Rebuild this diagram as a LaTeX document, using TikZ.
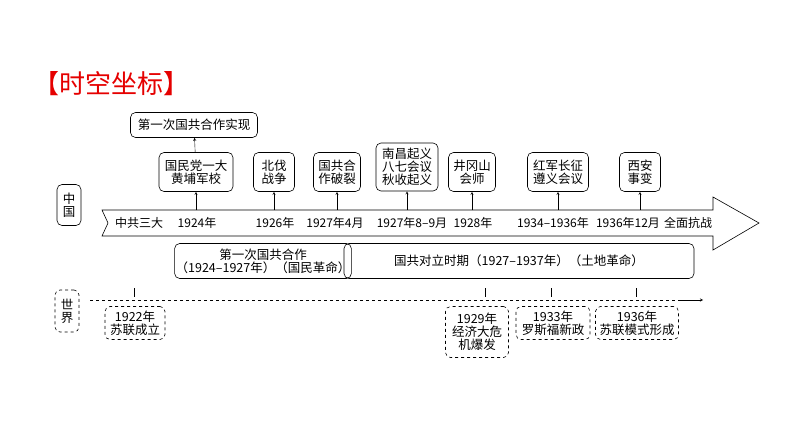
\documentclass[tikz,border=0pt]{standalone}
\usepackage{fontspec}
\usepackage{tikz}
\usetikzlibrary{positioning}
\newfontfamily\cjk{Noto Sans CJK SC}
\tikzset{
  evt/.style={draw, semithick, rounded corners=5pt, align=center, inner sep=1pt, font=\cjk\fontsize{12.5}{13}\selectfont},
  wld/.style={evt, dashed},
  yr/.style={font=\cjk\fontsize{12}{13}\selectfont},
  up/.style={->, >=stealth, thin}
}
\begin{document}
\begin{tikzpicture}[x=1pt, y=-1pt]
    \useasboundingbox (0,0) rectangle (794,447);
    \node[font=\cjk\fontsize{26}{28}\selectfont, text=red!90!black, anchor=west] (title) at (30,84) {【时空坐标】};
    % main arrow band
    \draw[semithick] (102,210) -- (713,210) -- (713,197) -- (759,223) -- (713,250) -- (713,236) -- (102,236) -- (108,223) -- cycle;
    \foreach \x/\t/\n in {139/中共三大/a, 197/1924年/b, 275/1926年/c, 335/1927年4月/d, 412/1927年8–9月/e, 473/1928年/f, 553/1934–1936年/g, 628/1936年12月/h, 688/全面抗战/i}
        \node[yr] (y\n) at (\x,223) {\t};
    % events
    \node[evt, minimum width=74pt, minimum height=39pt] (gmd) at (196,172) {国民党一大\\黄埔军校};
    \node[evt, minimum width=41pt, minimum height=39pt] (bf) at (274,172) {北伐\\战争};
    \node[evt, minimum width=47pt, minimum height=39pt] (pl) at (337,172) {国共合\\作破裂};
    \node[evt, minimum width=62pt, minimum height=48pt] (nc) at (407,167) {南昌起义\\八七会议\\秋收起义};
    \node[evt, minimum width=47pt, minimum height=39pt] (jg) at (472,172) {井冈山\\会师};
    \node[evt, minimum width=61pt, minimum height=39pt] (cz) at (558,172) {红军长征\\遵义会议};
    \node[evt, minimum width=41pt, minimum height=39pt] (xa) at (640,172) {西安\\事变};
    \node[evt, minimum width=127pt, minimum height=25pt] (sx) at (194,125) {第一次国共合作实现};
    \foreach \n/\e in {b/gmd, c/bf, d/pl, e/nc, f/jg, g/cz, h/xa}
        \draw[up] (\e |- 210,210) -- (\e.south);
    \draw[up] (gmd) -- (sx);
    % periods
    \node[evt, minimum width=162pt, minimum height=35pt] (p1) at (263,261) {第一次国共合作\\（1924–1927年）（国民革命）};
    \node[evt, minimum width=350pt, minimum height=35pt] (p2) at (519,261) {国共对立时期（1927–1937年）（土地革命）};
    % side labels
    \node[evt, minimum width=24pt, minimum height=41pt] (zg) at (69,205) {中\\国};
    \node[wld, minimum width=24pt, minimum height=42pt] (sj) at (67,311) {世\\界};
    % world line
    \coordinate (ws) at (90,300);
    \coordinate (we) at (703,300);
    \draw[dashed] (ws) -- (680,300);
    \draw[up] (680,300) -- (we);
    \node[wld, minimum width=60pt, minimum height=33pt] (w1) at (135,323) {1922年\\苏联成立};
    \node[wld, minimum width=63pt, minimum height=51pt] (w2) at (477,332) {1929年\\经济大危\\机爆发};
    \node[wld, minimum width=74pt, minimum height=33pt] (w3) at (553,323) {1933年\\罗斯福新政};
    \node[wld, minimum width=83pt, minimum height=33pt] (w4) at (637,323) {1936年\\苏联模式形成};
    \foreach \x in {134, 485, 551, 636}
        \draw (\x,288) -- (\x,297);
\end{tikzpicture}
\end{document}
